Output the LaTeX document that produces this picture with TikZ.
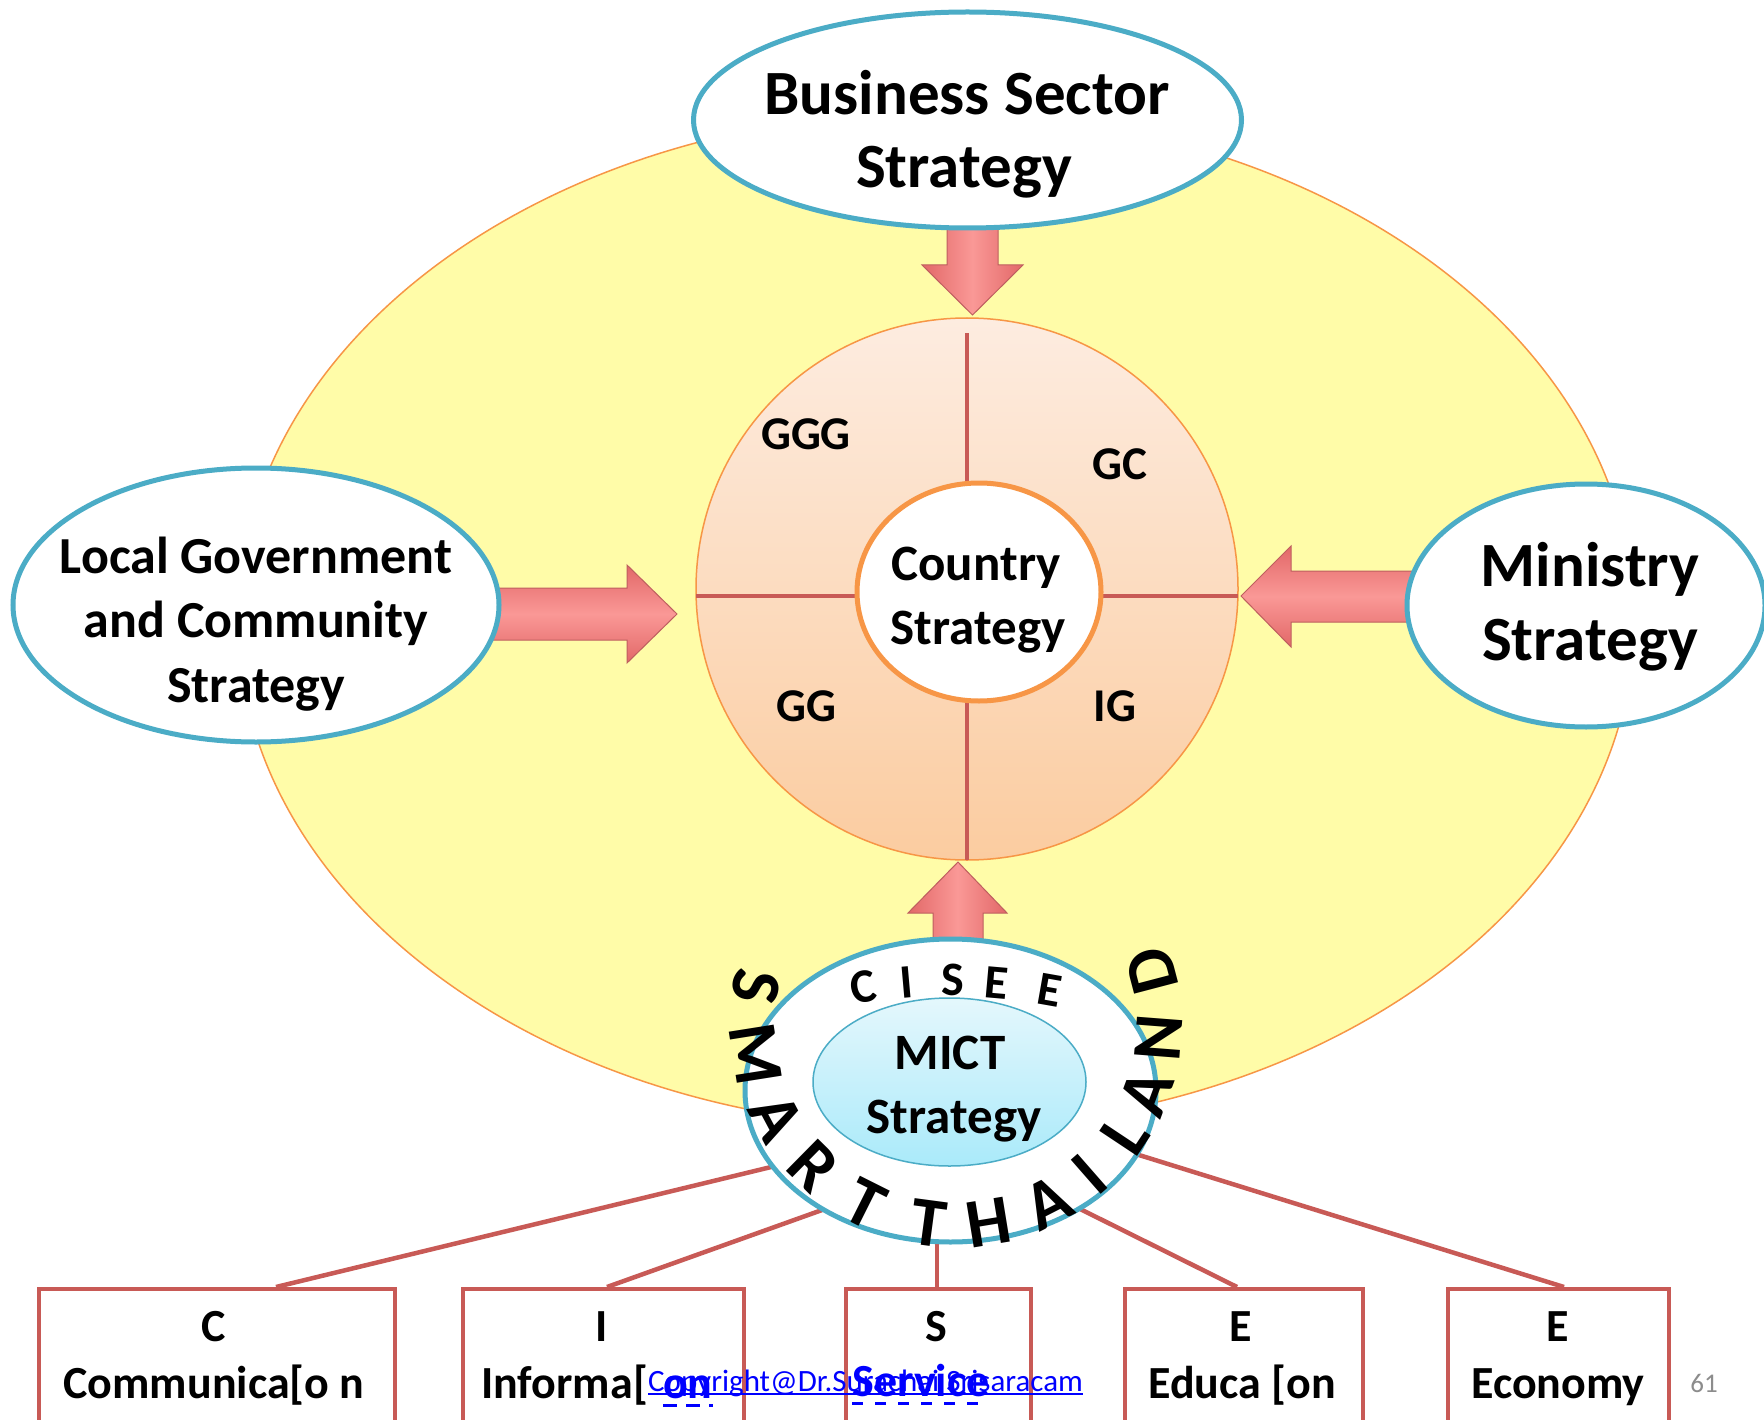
\documentclass[tikz,border=0pt]{standalone}
\usepackage{fontspec}
\setmainfont{Carlito}
\usetikzlibrary{shapes.geometric}
\definecolor{yellowfill}{RGB}{255,252,168}
\definecolor{orangeline}{RGB}{247,150,70}
\definecolor{aqua}{RGB}{75,172,198}
\definecolor{redline}{RGB}{200,90,86}
\definecolor{peachtop}{RGB}{253,236,224}
\definecolor{peachbot}{RGB}{251,204,160}
\definecolor{arrowmid}{RGB}{250,152,150}
\definecolor{arrowedge}{RGB}{226,104,104}
\definecolor{arrowline}{RGB}{190,95,95}
\definecolor{micttop}{RGB}{228,247,252}
\definecolor{mictbot}{RGB}{170,234,250}
\definecolor{linkblue}{RGB}{0,0,255}
\definecolor{pagegray}{RGB}{140,140,140}
\begin{document}
\begin{tikzpicture}[x=1pt,y=-1pt,
  oval/.style={ellipse, inner sep=0pt, draw=aqua, line width=5pt, fill=white},
  harrow/.style={draw=arrowline, line width=1pt, top color=arrowedge, bottom color=arrowedge, middle color=arrowmid},
  varrow/.style={draw=arrowline, line width=1pt, left color=arrowedge, right color=arrowedge, middle color=arrowmid},
  tbig/.style={font=\fontsize{63}{73}\selectfont\bfseries, inner sep=0pt, anchor=base},
  tmid/.style={font=\fontsize{52}{64}\selectfont\bfseries, inner sep=0pt, anchor=base},
  tctr/.style={font=\fontsize{51}{64}\selectfont\bfseries, inner sep=0pt, anchor=base},
  tquad/.style={font=\fontsize{47}{56}\selectfont\bfseries, inner sep=0pt, anchor=base},
  tbox/.style={font=\fontsize{46}{56}\selectfont\bfseries, inner sep=0pt, anchor=base},
  smartletter/.style={font=\fontsize{70}{70}\selectfont\bfseries, inner sep=0pt},
  ciseeletter/.style={font=\fontsize{48}{48}\selectfont\bfseries, inner sep=0pt},
  catbox/.style={draw=redline, line width=4pt, fill=white, inner sep=0pt, anchor=north west, minimum height=200pt},
  link/.style={draw=redline, line width=4.5pt}
]
\useasboundingbox (0,0) rectangle (1764,1420);
\fill[white] (0,0) rectangle (1764,1420);

% big yellow ellipse
\node[ellipse, minimum width=1396pt, minimum height=1016pt, fill=yellowfill, draw=orangeline, line width=1.5pt, inner sep=0pt] (yel) at (936,620) {};

% quadrant circle
\node[circle, minimum size=542pt, inner sep=0pt, top color=peachtop, bottom color=peachbot, draw=orangeline, line width=1.5pt] (quad) at (967,589) {};
\draw[redline, line width=3.5pt] ([yshift=-16pt]quad.north) -- ([yshift=1pt]quad.south);
\draw[redline, line width=3.5pt] ([yshift=-7pt,xshift=1pt]quad.west) -- ([yshift=-7pt,xshift=-1pt]quad.east);
\node[ellipse, minimum width=244pt, minimum height=218pt, inner sep=0pt, fill=white, draw=orangeline, line width=5pt] (cty) at (979,592) {};
\node[tctr] (co1) at (976,580) {Country};
\node[tctr] (co2) at (978,644) {Strategy};
\node[tquad] (q1) at (806,449) {GGG};
\node[tquad] (q2) at (1120,479) {GC};
\node[tquad] (q3) at (806,721) {GG};
\node[tquad] (q4) at (1115,721) {IG};

% block arrows
\draw[varrow] (947,200) -- (998,200) -- (998,265) -- (1023,265) -- (972.5,315) -- (922,265) -- (947,265) -- cycle;
\draw[harrow] (470,588) -- (627,588) -- (627,565) -- (677,614) -- (627,663) -- (627,640) -- (470,640) -- cycle;
\draw[harrow] (1420,571) -- (1291,571) -- (1291,546) -- (1241,596) -- (1291,647) -- (1291,622) -- (1420,622) -- cycle;

% strategy ovals
\node[oval, minimum width=548pt, minimum height=216pt] (bus) at (967.5,120) {};
\node[tbig] (bs1) at (967,115) {Business Sector};
\node[tbig] (bs2) at (964,188) {Strategy};

\node[oval, minimum width=486pt, minimum height=274pt] (loc) at (256,605) {};
\node[tmid] (lg1) at (256,573) {Local Government};
\node[tmid] (lg2) at (256,637) {and Community};
\node[tmid] (lg3) at (256,702) {Strategy};

\node[oval, minimum width=358pt, minimum height=243pt] (min) at (1586,605.5) {};
\node[tbig] (mi1) at (1590,586) {Ministry};
\node[tbig] (mi2) at (1590,660) {Strategy};

% bottom arrow
\draw[varrow] (933,990) -- (933,913) -- (908,913) -- (958,862) -- (1007,913) -- (983,913) -- (983,990) -- cycle;

% category boxes
\node[catbox, minimum width=356pt] (b1) at (37,1287) {};
\node[catbox, minimum width=281pt] (b2) at (461,1287) {};
\node[catbox, minimum width=185pt] (b3) at (844,1287) {};
\node[catbox, minimum width=238pt] (b4) at (1123,1287) {};
\node[catbox, minimum width=221pt] (b5) at (1446,1287) {};

% connectors (ends hidden under the MICT circle)
\coordinate (e1) at (800,1160);
\coordinate (e2) at (850,1200);
\coordinate (e3) at (937,1200);
\coordinate (e4) at (1060,1199);
\coordinate (e5) at (1110,1146);
\draw[link] (276,0 |- b1.north) -- (e1);
\draw[link] (607,0 |- b2.north) -- (e2);
\draw[link] (937,0 |- b3.north) -- (e3);
\draw[link] (1237,0 |- b4.north) -- (e4);
\draw[link] (1564,0 |- b5.north) -- (e5);

% MICT
\node[ellipse, minimum width=411pt, minimum height=303pt, inner sep=0pt, fill=white, draw=aqua, line width=5pt] (mo) at (950.5,1090.5) {};
\node[ellipse, minimum width=273pt, minimum height=168pt, inner sep=0pt, top color=micttop, bottom color=mictbot, draw=aqua, line width=1.5pt] (mi) at (949.5,1082) {};
\node[tctr] (mc1) at (950,1069) {MICT};
\node[tctr] (mc2) at (954,1133) {Strategy};

\coordinate (sc) at (956,1022);
\foreach \l/\a [count=\i] in {S/190, M/171, A/152, R/134.6, T/116.6, T/97.6, H/80.7, A/62.9, I/48.8, L/33.6, A/20.3, N/4.4, D/-14.7}
  \node[smartletter, rotate={90-\a}] (sl\i) at ([shift={(\a:203)}]sc) {\l};

\node[ciseeletter, rotate=10] (ce1) at (863,987) {C};
\node[ciseeletter, rotate=5] (ce2) at (907,982) {I};
\node[ciseeletter] (ce3) at (953,980) {S};
\node[ciseeletter, rotate=-5] (ce4) at (997,983) {E};
\node[ciseeletter, rotate=-10] (ce5) at (1050,990) {E};

% box texts
\node[tbox] (bt1) at (214,1341) {C};
\node[tbox] (bl1) at (214,1398) {Communica[o n};
\node[tbox] (bt2) at (602,1341) {I};
\node[tbox, anchor=base west] (bl2) at (481,1398) {Informa[};
\node[tbox] (bt3) at (936,1341) {S};
\node[tbox] (bt4) at (1241,1341) {E};
\node[tbox] (bl4) at (1242,1398) {Educa [on};
\node[tbox] (bt5) at (1558,1341) {E};
\node[tbox] (bl5) at (1558,1398) {Economy};

% copyright / link texts
\node[font=\fontsize{31}{31}\selectfont, text=linkblue, inner sep=0pt, anchor=base west] (cr) at (648,1391) {Copyright@Dr.Surachai Srisaracam};
\draw[linkblue, line width=1.5pt] ([yshift=-3pt]cr.base west) -- ([yshift=-3pt]cr.base east);
\node[tbox, text=linkblue, anchor=base west] (bl2b) at (663,1398) {on};
\draw[linkblue, line width=3pt, dash pattern=on 14pt off 9pt] ([yshift=-7pt]bl2b.base west) -- ([yshift=-7pt]bl2b.base east);
\node[tbox, text=linkblue] (bl3) at (921,1396) {Service};
\draw[linkblue, line width=3pt, dash pattern=on 11pt off 12pt] ([yshift=-7pt]bl3.base west) -- ([yshift=-7pt]bl3.base east);

\node[font=\fontsize{27}{27}\selectfont, text=pagegray, inner sep=0pt, anchor=base] (pg) at (1704,1392) {61};
\end{tikzpicture}
\end{document}
